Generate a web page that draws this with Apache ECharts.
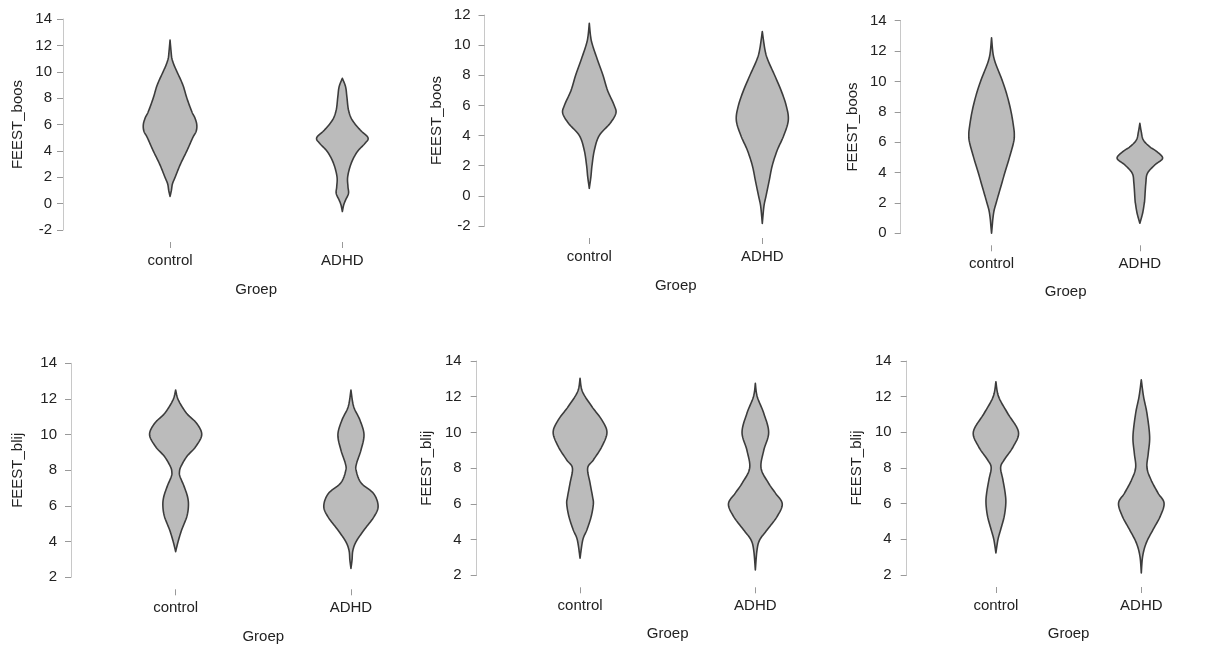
<!DOCTYPE html>
<html>
<head>
<meta charset="utf-8">
<script src="https://cdn.jsdelivr.net/npm/echarts@6/dist/echarts.min.js"></script>
<style>
html,body{margin:0;padding:0;background:#fff;}
#chart{width:1214px;height:648px;}
</style>
</head>
<body>
<div id="chart"></div>
<script>
// ---------- DATA ----------
const categories = ['control', 'ADHD'];
const xAxisName = 'Groep';
const yAxisNames = ['FEEST_boos', 'FEEST_boos', 'FEEST_boos', 'FEEST_blij', 'FEEST_blij', 'FEEST_blij'];
const yMins = [-2, -2, 0, 2, 2, 2];
const yMaxs = [14, 12, 14, 14, 14, 14];
const yInterval = 2;

// violin density profiles: [value, relative half-width]
const p1Control = [[12.4,0],[11.5,0.04],[11,0.07],[10.5,0.15],[10,0.26],[9,0.48],[8,0.63],[7,0.81],[6.5,0.93],[6,1.0],[5.5,0.98],[5,0.85],[4,0.63],[3,0.39],[2,0.19],[1.5,0.09],[1,0.05],[0.55,0]];
const p1ADHD = [[9.5,0],[8.87,0.12],[8.1,0.17],[7.1,0.23],[6.34,0.37],[5.58,0.67],[5.0,0.96],[4.57,0.85],[3.94,0.56],[3.05,0.33],[2.04,0.20],[1.3,0.21],[0.78,0.23],[0.27,0.12],[-0.1,0.05],[-0.6,0]];
const p2Control = [[11.45,0],[10.56,0.05],[10,0.12],[9,0.31],[8,0.51],[7,0.68],[6,0.93],[5.47,0.99],[4.8,0.77],[4,0.37],[3.04,0.19],[2,0.10],[1.27,0.06],[0.5,0]];
const p2ADHD = [[10.9,0],[9.68,0.10],[9,0.21],[8,0.46],[7,0.70],[6,0.89],[5.03,0.97],[4,0.80],[3.04,0.56],[2,0.37],[0.94,0.25],[0,0.14],[-0.7,0.06],[-1.83,0]];
const p3Control = [[12.88,0],[12,0.05],[11.5,0.11],[11,0.22],[10,0.48],[9,0.69],[8,0.85],[7,0.96],[6.5,0.99],[6,0.96],[5,0.78],[4,0.58],[3,0.39],[2,0.20],[1.5,0.11],[1,0.06],[0.5,0.03],[0,0]];
const p3ADHD = [[7.24,0],[6.7,0.06],[6.15,0.15],[5.7,0.43],[5.38,0.74],[4.94,0.99],[4.5,0.65],[3.95,0.33],[3.3,0.26],[2.2,0.21],[1.95,0.19],[1.32,0.12],[0.66,0]];
const p4Control = [[12.5,0],[11.94,0.10],[11.2,0.40],[10.64,0.77],[10,0.96],[9.33,0.74],[8.77,0.41],[8.2,0.19],[7.9,0.14],[7.65,0.16],[7.1,0.31],[6.5,0.44],[6,0.47],[5.4,0.41],[4.65,0.22],[4,0.09],[3.44,0]];
const p4ADHD = [[12.5,0],[11.57,0.10],[10.82,0.33],[10,0.48],[9.14,0.37],[8.4,0.21],[8,0.19],[7.3,0.37],[6.7,0.83],[6,1.0],[5.4,0.85],[4.65,0.48],[4,0.19],[3.5,0.07],[2.97,0.04],[2.5,0]];
const p5Control = [[13.03,0],[12.28,0.09],[11.44,0.44],[10.7,0.80],[10,0.99],[9.2,0.80],[8.46,0.49],[8,0.28],[7.15,0.37],[6.4,0.46],[6,0.49],[5.29,0.41],[4.54,0.25],[3.98,0.10],[2.96,0]];
const p5ADHD = [[12.75,0],[12,0.07],[11.07,0.31],[10,0.49],[9,0.31],[8,0.21],[7.15,0.49],[6.6,0.74],[6,0.99],[5.29,0.80],[4.54,0.43],[3.98,0.16],[3.4,0.06],[2.3,0]];
const p6Control = [[12.84,0],[12,0.12],[11.07,0.52],[10.03,1.0],[9.2,0.77],[8.46,0.37],[8.03,0.21],[7.34,0.31],[6.6,0.41],[6.03,0.44],[5.29,0.37],[4.54,0.21],[3.98,0.09],[3.24,0]];
const p6ADHD = [[12.94,0],[12,0.10],[11.07,0.25],[9.77,0.37],[8.83,0.31],[8.03,0.25],[7.34,0.43],[6.6,0.74],[6.03,1.01],[5.29,0.84],[4.54,0.52],[3.8,0.22],[3.05,0.06],[2.12,0]];

const panelProfiles = [
  [p1Control, p1ADHD], [p2Control, p2ADHD], [p3Control, p3ADHD],
  [p4Control, p4ADHD], [p5Control, p5ADHD], [p6Control, p6ADHD]
];

// ---------- LAYOUT / STYLE ----------
const grids = [
  {left: 83.9,  top: 19,    width: 344.6, height: 211},
  {left: 502.8, top: 15,    width: 346,   height: 211},
  {left: 917.4, top: 20.7,  width: 347.4, height: 212.6},
  {left: 88.0,  top: 363.3, width: 350.6, height: 214},
  {left: 492.4, top: 361,   width: 350.6, height: 214.3},
  {left: 923.2, top: 361,   width: 350,   height: 214}
];
const yOffsets = [20.9, 18.3, 16.7, 17.0, 15.7, 16.5];
const yLabelMargins = [11, 14, 14, 14, 15, 15];
const yNameGaps = [38, 40, 40, 46, 42, 42];
const xNameGaps = [40, 40, 39, 40, 39, 39];
const HALF_WIDTH = 0.155; // fraction of category band for density 1
const FONT = 'Liberation Sans, Arial, sans-serif';
const FILL = '#bbbbbb';
const STROKE = '#3c3c3c';
const SAMPLES = 10;

const chart = echarts.init(document.getElementById('chart'), null, {renderer: 'canvas'});

// Catmull-Rom rendering of an outline through given screen points
function smoothLine(pts) {
  const out = [];
  const n = pts.length;
  for (let i = 0; i < n - 1; i++) {
    const p0 = pts[Math.max(i - 1, 0)], p1 = pts[i], p2 = pts[i + 1], p3 = pts[Math.min(i + 2, n - 1)];
    const c1 = [p1[0] + (p2[0] - p0[0]) / 6, p1[1] + (p2[1] - p0[1]) / 6];
    const c2 = [p2[0] - (p3[0] - p1[0]) / 6, p2[1] - (p3[1] - p1[1]) / 6];
    for (let s = 0; s < SAMPLES; s++) {
      const t = s / SAMPLES, u = 1 - t;
      out.push([
        u*u*u*p1[0] + 3*u*u*t*c1[0] + 3*u*t*t*c2[0] + t*t*t*p2[0],
        u*u*u*p1[1] + 3*u*u*t*c1[1] + 3*u*t*t*c2[1] + t*t*t*p2[1]
      ]);
    }
  }
  out.push(pts[n - 1]);
  return out;
}

function makeRenderer(profiles) {
  return function (params, api) {
    const ci = api.value(0);
    const prof = profiles[ci].slice().sort((a, b) => b[0] - a[0]);
    const band = api.size([1, 0])[0];
    const cx = api.coord([ci, prof[0][0]])[0];
    const right = [], left = [];
    prof.forEach(function (p) {
      const y = api.coord([ci, p[0]])[1];
      const hw = p[1] * HALF_WIDTH * band;
      right.push([cx + hw, y]);
      left.push([cx - hw, y]);
    });
    const r = smoothLine(right);
    const l = smoothLine(left.reverse());
    const pts = r.concat(l.slice(1, l.length - 1));
    return {
      type: 'polygon',
      shape: {points: pts},
      style: {fill: FILL, stroke: STROKE, lineWidth: 1.6, lineJoin: 'round'}
    };
  };
}

const option = {
  animation: false,
  backgroundColor: '#ffffff',
  textStyle: {fontFamily: FONT},
  grid: grids.map(g => Object.assign({containLabel: false}, g)),
  xAxis: grids.map((g, i) => ({
    type: 'category',
    gridIndex: i,
    data: categories,
    position: 'bottom',
    offset: 12,
    axisLine: {show: false, onZero: false},
    axisTick: {show: true, alignWithLabel: true, length: 6, lineStyle: {color: '#999999'}},
    axisLabel: {margin: 11, color: '#222222', fontSize: 15, fontFamily: FONT},
    splitLine: {show: false},
    name: xAxisName,
    nameLocation: 'middle',
    nameGap: xNameGaps[i],
    nameTextStyle: {color: '#222222', fontSize: 15, fontFamily: FONT}
  })),
  yAxis: grids.map((g, i) => ({
    type: 'value',
    gridIndex: i,
    min: yMins[i],
    max: yMaxs[i],
    interval: yInterval,
    offset: yOffsets[i],
    axisLine: {show: true, onZero: false, lineStyle: {color: '#c8c8c8', width: 1}},
    axisTick: {show: true, length: 6, lineStyle: {color: '#999999'}},
    axisLabel: {margin: yLabelMargins[i], color: '#222222', fontSize: 15, fontFamily: FONT},
    splitLine: {show: false},
    name: yAxisNames[i],
    nameLocation: 'middle',
    nameGap: yNameGaps[i],
    nameRotate: 90,
    nameTextStyle: {color: '#222222', fontSize: 15, fontFamily: FONT}
  })),
  series: panelProfiles.map((profiles, i) => ({
    type: 'custom',
    xAxisIndex: i,
    yAxisIndex: i,
    clip: false,
    renderItem: makeRenderer(profiles),
    encode: {x: 0},
    data: categories.map((c, ci) => [ci])
  }))
};
chart.setOption(option);
</script>
</body>
</html>
